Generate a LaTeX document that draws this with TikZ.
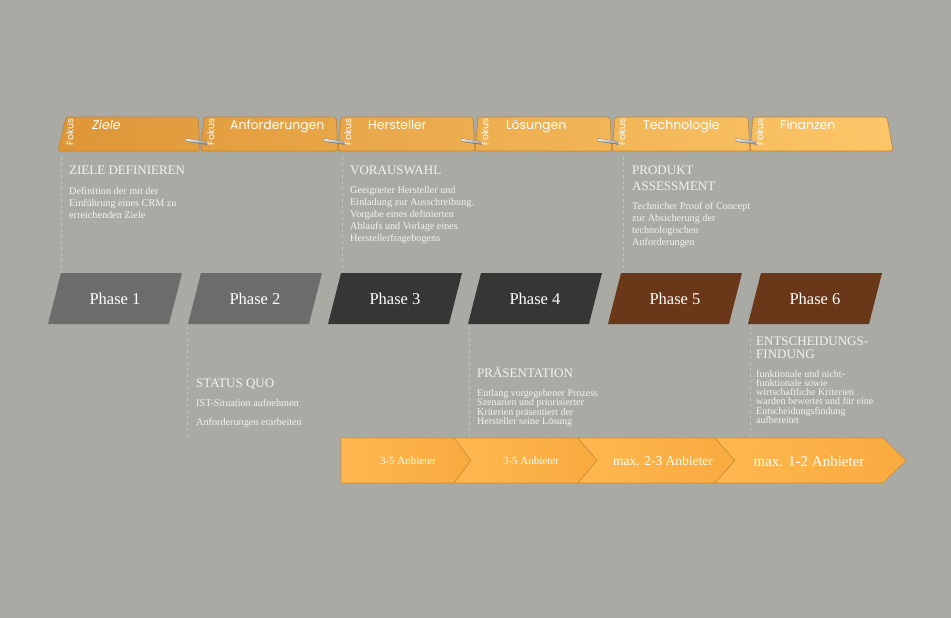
\documentclass[tikz,border=0pt]{standalone}
\usepackage{fontspec}
\setmainfont{Liberation Serif}
\newfontfamily\tabfont{Poppins}
\newcommand\mytightls{\lineskiplimit=-30pt\relax}
\definecolor{bgc}{RGB}{170,170,165}
\definecolor{txtc}{RGB}{242,242,240}
\definecolor{ph12}{RGB}{108,108,108}
\definecolor{ph34}{RGB}{54,54,54}
\definecolor{ph56}{RGB}{107,55,25}
\definecolor{tabedge}{RGB}{196,132,48}
\definecolor{tabA}{RGB}{222,150,55}
\definecolor{tabB}{RGB}{227,158,63}
\definecolor{tabC}{RGB}{232,166,71}
\definecolor{tabD}{RGB}{237,174,79}
\definecolor{tabE}{RGB}{242,182,87}
\definecolor{tabF}{RGB}{247,190,95}
\definecolor{tabG}{RGB}{252,198,104}
\definecolor{chevL}{RGB}{254,184,80}
\definecolor{chevR}{RGB}{248,170,62}
\definecolor{chevedge}{RGB}{205,142,55}
\definecolor{dashc}{RGB}{194,194,190}
\definecolor{wedgeD}{RGB}{110,110,108}
\begin{document}
\begin{tikzpicture}[x=1pt,y=-1pt,
  txt/.style={text=txtc, inner sep=0pt, anchor=base west, align=left},
  head/.style={txt, font=\fontsize{13}{16}\selectfont\mytightls},
  body/.style={txt, font=\fontsize{10.2}{12}\selectfont\mytightls},
  tightbody/.style={txt, font=\fontsize{10}{9.6}\selectfont\mytightls},
  phaselbl/.style={text=white, inner sep=0pt, font=\fontsize{16.5}{18}\selectfont},
  tabbox/.style={draw=tabedge, line width=0.6pt, rounded corners=2.5pt},
  fokus/.style={rotate=90, text=white, inner sep=0pt, font=\tabfont\fontsize{9.5}{10}\selectfont},
  tabtitle/.style={anchor=base west, text=white, inner sep=0pt, font=\tabfont\fontsize{12.5}{13}\selectfont},
  chev/.style={draw=chevedge, line width=0.6pt, left color=chevL, right color=chevR},
  chevtxt/.style={text=white, inner sep=0pt},
  guide/.style={draw=dashc, line width=0.6pt, dash pattern=on 3pt off 3pt},
  wedge/.style={top color=white, bottom color=wedgeD, draw=wedgeD, line width=0.3pt}
]
\useasboundingbox (0,0) rectangle (951,618);
\fill[bgc] (0,0) rectangle (951,618);

% ---- guide lines
\foreach \gx in {61,342,623} \draw[guide] (\gx,157) -- (\gx,272);
\foreach \gx in {187,469,750} \draw[guide] (\gx,326) -- (\gx,437);

% ---- top tabs
\path[tabbox, left color=tabA, right color=tabB] (58,151) -- (66,117) -- (198,117) -- (200,151) -- cycle;
\path[tabbox, left color=tabB, right color=tabC] (201,151) -- (204,117) -- (336,117) -- (338,151) -- cycle;
\path[tabbox, left color=tabC, right color=tabD] (338,151) -- (341,117) -- (473,117) -- (475,151) -- cycle;
\path[tabbox, left color=tabD, right color=tabE] (475,151) -- (478,117) -- (610,117) -- (612,151) -- cycle;
\path[tabbox, left color=tabE, right color=tabF] (612,151) -- (615,117) -- (748,117) -- (750,151) -- cycle;
\path[tabbox, left color=tabF, right color=tabG] (750,151) -- (753,117) -- (887,117) -- (893,151) -- cycle;

\foreach \r in {200,338,475,612,750}
  \path[wedge] (\r-14,138.5) -- (\r+7,141.5) -- (\r+7,144.5) -- (\r-14,141.5) -- cycle;

\node[fokus] (f1) at (70,132) {Fokus};
\node[fokus] (f2) at (211,132) {Fokus};
\node[fokus] (f3) at (348,132) {Fokus};
\node[fokus] (f4) at (485,132) {Fokus};
\node[fokus] (f5) at (622,132) {Fokus};
\node[fokus] (f6) at (760,132) {Fokus};

\node[tabtitle] (t1) at (92,129) {\itshape Ziele};
\node[tabtitle] (t2) at (230,129) {Anforderungen};
\node[tabtitle] (t3) at (368,129) {Hersteller};
\node[tabtitle] (t4) at (506,129) {Lösungen};
\node[tabtitle] (t5) at (643,129) {Technologie};
\node[tabtitle] (t6) at (780,129) {Finanzen};

% ---- upper texts (base anchor = last line's baseline)
\node[head] (h1) at (69,174) {ZIELE DEFINIEREN};
\node[body] (b1) at (69,218) {Definition der mit der\\Einführung eines CRM zu\\erreichenden Ziele};
\node[head] (h3) at (350,174) {VORAUSWAHL};
\node[body] (b3) at (350,241) {Geeigneter Hersteller und\\Einladung zur Ausschreibung.\\Vorgabe eines definierten\\Ablaufs und Vorlage eines\\Herstellerfragebogens};
\node[head] (h5) at (632,190) {PRODUKT\\ASSESSMENT};
\node[body] (b5) at (632,245) {Technicher Proof of Concept\\zur Absicherung der\\technologischen\\Anforderungen};

% ---- phases
\foreach \k/\c in {1/ph12,2/ph12,3/ph34,4/ph34,5/ph56,6/ph56}{
  \pgfmathsetmacro\xa{61+140*(\k-1)}
  \fill[\c] (\xa,273) -- ++(121,0) -- ++(-13,51) -- ++(-121,0) -- cycle;
  \node[phaselbl] (p\k) at (\xa+54,298.5) {Phase \k};
}

% ---- lower texts
\node[head] (h2) at (196,387) {STATUS QUO};
\node[body] (b2a) at (196,406) {IST-Situation aufnehmen};
\node[body] (b2b) at (196,425) {Anforderungen erarbeiten};
\node[head] (h4) at (477,377) {PRÄSENTATION};
\node[tightbody] (b4) at (477,424.8) {Entlang vorgegebener Prozess\\Szenarien und priorisierter\\Kriterien präsentiert der\\Hersteller seine Lösung};
\node[head, font=\fontsize{13}{13}\selectfont\mytightls] (h6) at (756,358) {ENTSCHEIDUNGS-\\FINDUNG};
\node[tightbody, font=\fontsize{10}{9.3}\selectfont\mytightls] (b6) at (756,423.5) {funktionale und nicht-\\funktionale sowie\\wirtschaftliche Kriterien\\warden bewertet und für eine\\Entscheidungsfindung\\aufbereitet};

% ---- bottom chevrons
\path[chev] (341,438) -- (454,438) -- (471,460.5) -- (454,483) -- (341,483) -- cycle;
\path[chev] (454,438) -- (578,438) -- (597,460.5) -- (578,483) -- (454,483) -- (471,460.5) -- cycle;
\path[chev] (578,438) -- (715,438) -- (735,460.5) -- (715,483) -- (578,483) -- (597,460.5) -- cycle;
\path[chev] (715,438) -- (883,438) -- (906,460.5) -- (883,483) -- (715,483) -- (735,460.5) -- cycle;
\node[chevtxt, font=\fontsize{11}{12}\selectfont] (c1) at (408,461) {3-5 Anbieter};
\node[chevtxt, font=\fontsize{11}{12}\selectfont] (c2) at (531,461) {3-5 Anbieter};
\node[chevtxt, font=\fontsize{13.5}{14}\selectfont] (c3) at (663,461) {max. 2-3 Anbieter};
\node[chevtxt, font=\fontsize{15}{16}\selectfont] (c4) at (809,461) {max. 1-2 Anbieter};
\end{tikzpicture}
\end{document}
